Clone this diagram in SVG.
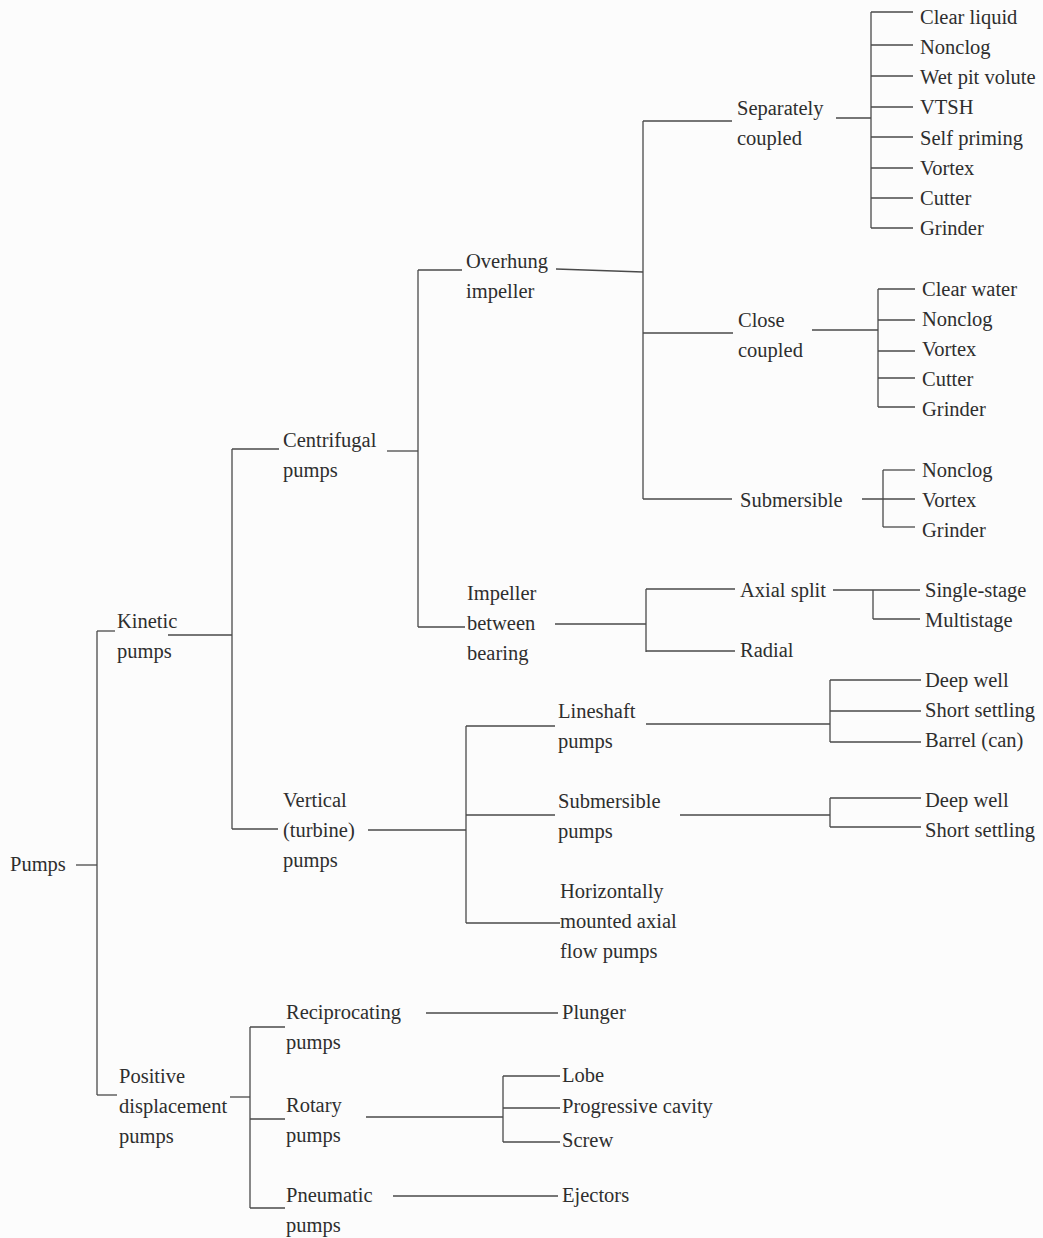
<svg xmlns="http://www.w3.org/2000/svg" width="1043" height="1238" viewBox="0 0 1043 1238">
<style>
text{font-family:"Liberation Serif","Times New Roman",serif;font-size:20.5px;fill:#2e2e2e}
.c line{stroke:#4a4a4a;stroke-width:1.3;fill:none}
</style>
<rect width="1043" height="1238" fill="#fcfcfc"/>
<g class="c" id="connectors">
<line x1="76" y1="865" x2="97" y2="865"/>
<line x1="97" y1="631" x2="97" y2="1095"/>
<line x1="97" y1="631" x2="115" y2="631"/>
<line x1="97" y1="1095" x2="117" y2="1095"/>
<line x1="168" y1="635" x2="232" y2="635"/>
<line x1="232" y1="449" x2="232" y2="829"/>
<line x1="232" y1="449" x2="279" y2="449"/>
<line x1="232" y1="829" x2="278" y2="829"/>
<line x1="387" y1="451" x2="418" y2="451"/>
<line x1="418" y1="270" x2="418" y2="627"/>
<line x1="418" y1="270" x2="462" y2="270"/>
<line x1="418" y1="627" x2="465" y2="627"/>
<line x1="556" y1="269" x2="643" y2="272"/>
<line x1="643" y1="121" x2="643" y2="499"/>
<line x1="643" y1="121" x2="732" y2="121"/>
<line x1="643" y1="333" x2="733" y2="333"/>
<line x1="643" y1="499" x2="732" y2="499"/>
<line x1="836" y1="118" x2="871" y2="118"/>
<line x1="871" y1="12" x2="871" y2="228"/>
<line x1="871" y1="12" x2="913" y2="12"/>
<line x1="871" y1="45" x2="913" y2="45"/>
<line x1="871" y1="76" x2="913" y2="76"/>
<line x1="871" y1="107" x2="913" y2="107"/>
<line x1="871" y1="137" x2="913" y2="137"/>
<line x1="871" y1="168" x2="913" y2="168"/>
<line x1="871" y1="198" x2="913" y2="198"/>
<line x1="871" y1="228" x2="913" y2="228"/>
<line x1="812" y1="330" x2="878" y2="330"/>
<line x1="878" y1="289" x2="878" y2="407"/>
<line x1="878" y1="289" x2="915" y2="289"/>
<line x1="878" y1="320" x2="915" y2="320"/>
<line x1="878" y1="351" x2="915" y2="351"/>
<line x1="878" y1="378" x2="915" y2="378"/>
<line x1="878" y1="407" x2="915" y2="407"/>
<line x1="862" y1="499" x2="915" y2="499"/>
<line x1="883" y1="470" x2="883" y2="527"/>
<line x1="883" y1="470" x2="915" y2="470"/>
<line x1="883" y1="527" x2="915" y2="527"/>
<line x1="555" y1="624" x2="646" y2="624"/>
<line x1="646" y1="589" x2="646" y2="652"/>
<line x1="646" y1="589" x2="735" y2="589"/>
<line x1="646" y1="651" x2="735" y2="651"/>
<line x1="833" y1="590" x2="920" y2="590"/>
<line x1="873" y1="590" x2="873" y2="619"/>
<line x1="873" y1="619" x2="920" y2="619"/>
<line x1="368" y1="830" x2="466" y2="830"/>
<line x1="466" y1="726" x2="466" y2="923"/>
<line x1="466" y1="726" x2="555" y2="726"/>
<line x1="466" y1="815" x2="555" y2="815"/>
<line x1="466" y1="923" x2="560" y2="923"/>
<line x1="646" y1="724" x2="830" y2="724"/>
<line x1="830" y1="680" x2="830" y2="742"/>
<line x1="830" y1="680" x2="921" y2="680"/>
<line x1="830" y1="711" x2="921" y2="711"/>
<line x1="830" y1="742" x2="921" y2="742"/>
<line x1="680" y1="815" x2="830" y2="815"/>
<line x1="830" y1="798" x2="830" y2="827"/>
<line x1="830" y1="798" x2="921" y2="798"/>
<line x1="830" y1="827" x2="921" y2="827"/>
<line x1="230" y1="1097" x2="250" y2="1097"/>
<line x1="250" y1="1027" x2="250" y2="1208"/>
<line x1="250" y1="1027" x2="285" y2="1027"/>
<line x1="250" y1="1119" x2="285" y2="1119"/>
<line x1="250" y1="1208" x2="285" y2="1208"/>
<line x1="426" y1="1013" x2="558" y2="1013"/>
<line x1="366" y1="1117" x2="503" y2="1117"/>
<line x1="503" y1="1076" x2="503" y2="1142"/>
<line x1="503" y1="1076" x2="560" y2="1076"/>
<line x1="503" y1="1108" x2="560" y2="1108"/>
<line x1="503" y1="1142" x2="560" y2="1142"/>
<line x1="393" y1="1196" x2="558" y2="1196"/>
</g>
<g id="pumps"><text x="10" y="871">Pumps</text></g>
<g id="kinetic"><text x="117" y="628">Kinetic</text><text x="117" y="658">pumps</text></g>
<g id="positive"><text x="119" y="1083">Positive</text><text x="119" y="1113">displacement</text><text x="119" y="1143">pumps</text></g>
<g id="centrifugal"><text x="283" y="447">Centrifugal</text><text x="283" y="477">pumps</text></g>
<g id="vertical"><text x="283" y="807">Vertical</text><text x="283" y="837">(turbine)</text><text x="283" y="867">pumps</text></g>
<g id="overhung"><text x="466" y="268">Overhung</text><text x="466" y="298">impeller</text></g>
<g id="between"><text x="467" y="600">Impeller</text><text x="467" y="630">between</text><text x="467" y="660">bearing</text></g>
<g id="separately"><text x="737" y="115">Separately</text><text x="737" y="145">coupled</text></g>
<g id="close"><text x="738" y="327">Close</text><text x="738" y="357">coupled</text></g>
<g id="submersible-oh"><text x="740" y="507">Submersible</text></g>
<g id="sc-leaves">
<text x="920" y="24">Clear liquid</text>
<text x="920" y="54">Nonclog</text>
<text x="920" y="84">Wet pit volute</text>
<text x="920" y="114">VTSH</text>
<text x="920" y="145">Self priming</text>
<text x="920" y="175">Vortex</text>
<text x="920" y="205">Cutter</text>
<text x="920" y="235">Grinder</text>
</g>
<g id="cc-leaves">
<text x="922" y="296">Clear water</text>
<text x="922" y="326">Nonclog</text>
<text x="922" y="356">Vortex</text>
<text x="922" y="386">Cutter</text>
<text x="922" y="416">Grinder</text>
</g>
<g id="sub-leaves">
<text x="922" y="477">Nonclog</text>
<text x="922" y="507">Vortex</text>
<text x="922" y="537">Grinder</text>
</g>
<g id="axial"><text x="740" y="597">Axial split</text></g>
<g id="radial"><text x="740" y="657">Radial</text></g>
<g id="axial-leaves"><text x="925" y="597">Single-stage</text><text x="925" y="627">Multistage</text></g>
<g id="lineshaft"><text x="558" y="718">Lineshaft</text><text x="558" y="748">pumps</text></g>
<g id="ls-leaves"><text x="925" y="687">Deep well</text><text x="925" y="717">Short settling</text><text x="925" y="747">Barrel (can)</text></g>
<g id="submersible-v"><text x="558" y="808">Submersible</text><text x="558" y="838">pumps</text></g>
<g id="sv-leaves"><text x="925" y="807">Deep well</text><text x="925" y="837">Short settling</text></g>
<g id="horizontal"><text x="560" y="898">Horizontally</text><text x="560" y="928">mounted axial</text><text x="560" y="958">flow pumps</text></g>
<g id="reciprocating"><text x="286" y="1019">Reciprocating</text><text x="286" y="1049">pumps</text></g>
<g id="rotary"><text x="286" y="1112">Rotary</text><text x="286" y="1142">pumps</text></g>
<g id="pneumatic"><text x="286" y="1202">Pneumatic</text><text x="286" y="1232">pumps</text></g>
<g id="plunger"><text x="562" y="1019">Plunger</text></g>
<g id="rotary-leaves"><text x="562" y="1082">Lobe</text><text x="562" y="1113">Progressive cavity</text><text x="562" y="1147">Screw</text></g>
<g id="ejectors"><text x="562" y="1202">Ejectors</text></g>
</svg>
